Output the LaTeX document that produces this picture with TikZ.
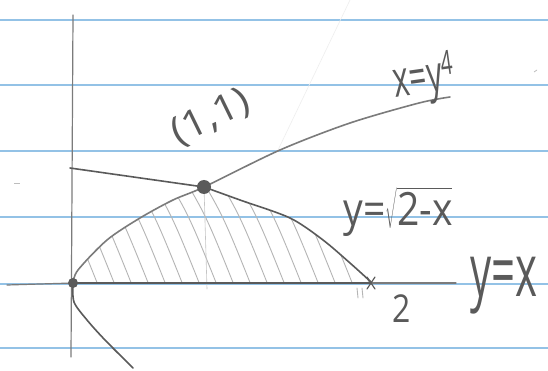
\documentclass[tikz,border=0pt]{standalone}
\usepackage{fontspec}
\setmainfont{Open Sans}
\usetikzlibrary{calc}
\begin{document}
\begin{tikzpicture}[x=1pt,y=-1pt,
  paper/.style={draw=rulecol,line width=1.3pt},
  pencil/.style={draw=pen,line width=1.6pt,line cap=round,line join=round},
  thinpencil/.style={draw=pen!80,line width=1.2pt,line cap=round},
  hatch/.style={draw=pen!45,line width=0.9pt,line cap=round},
  dotmark/.style={circle,fill=pen,inner sep=0pt,minimum size=#1},
  hand/.style={text=pen,inner sep=0pt,font=\fontsize{34}{34}\selectfont}]
\definecolor{rulecol}{HTML}{93C2E6}
\definecolor{pen}{HTML}{5A5A5A}
\useasboundingbox[fill=white] (0,0) rectangle (548,371);
% ruled paper
\foreach \yy in {20,85,151,217,284,348}{\draw[paper] (0,\yy) -- (548,\yy);}
% faint stray marks
\draw[pen!10,line width=0.6pt] (350,0) -- (278,150);
\draw[pen!40,line width=0.8pt] (14,183) -- (20,183);
\draw[pen!40,line width=0.8pt] (534,72) -- (537,70);
% named points
\coordinate (O) at (73,283);
\coordinate (T) at (371,283);
\coordinate (Yt) at (73,15);
\coordinate (Yb) at (71,357);
\coordinate (Xl) at (7,285);
\coordinate (Xr) at (456,283);
\coordinate (S0) at (70,168);
\coordinate (Pc) at (204,187);
% hatching
\begin{scope}
\clip plot[smooth] coordinates {(73,283) (78,270) (107,240) (140,218) (173,200) (204,187)}
  -- plot[smooth] coordinates {(204,187) (240,200) (290,218) (323,240) (350,263) (371,282)} -- cycle;
\foreach \xx in {40,57,...,380}{\draw[hatch] (\xx,165) .. controls (\xx+30,215) .. (\xx+62,295);}
\end{scope}
\draw[hatch,pen!35,line width=0.6pt] (Pc) -- (207,289);
% axes
\draw[thinpencil] (Yt) -- (Yb);
\draw[thinpencil] (Xl) -- (O);
\draw[pencil,line width=2.4pt] (O) -- (T);
\draw[thinpencil] (T) -- (Xr);
% x = y^4
\draw[pencil,draw=pen!80] plot[smooth] coordinates {(73,283) (78,270) (107,240) (140,218) (173,200) (204,187) (280,150) (350,123) (419,103) (450,97)};
\draw[pencil] plot[smooth] coordinates {(73,283) (74,302) (87,320) (105,340) (133,368)};
% y = sqrt(2-x)
\draw[pencil] (S0) -- (Pc);
\draw[pencil] plot[smooth] coordinates {(204,187) (240,200) (290,218) (323,240) (350,263) (371,282)};
% dots
\node[dotmark=14pt] (P) at (Pc) {};
\node[dotmark=10pt] (Od) at (O) {};
\draw[pencil,line width=1.2pt] ($(T)+(-4,-6)$) -- ($(T)+(4,6)$);
\draw[pencil,line width=1.2pt] ($(T)+(-4,6)$) -- ($(T)+(4,-6)$);
\draw[hatch] (357,288) -- (358,298);
\draw[hatch] (362,288) -- (363,298);
% labels
\node[hand,rotate=26,font=\fontsize{38}{38}\selectfont,xscale=1.1] (lp) at (211,118) {(1,1)};
\node[hand,rotate=8,font=\fontsize{36}{36}\selectfont,xscale=0.85,yscale=1.4] (lx) at (424,80) {x=y\raisebox{0.3em}{\fontsize{24}{24}\selectfont 4}};
\node[hand,xscale=1.15,yscale=1.35] (ls) at (398,212) {y=$\sqrt{\mbox{2-x}}$};
\node[hand,font=\fontsize{42}{42}\selectfont,yscale=1.75] (ly) at (504,286) {y=x};
\node[hand,font=\fontsize{32}{32}\selectfont,yscale=1.2] (l2) at (402,309) {2};
\end{tikzpicture}
\end{document}
